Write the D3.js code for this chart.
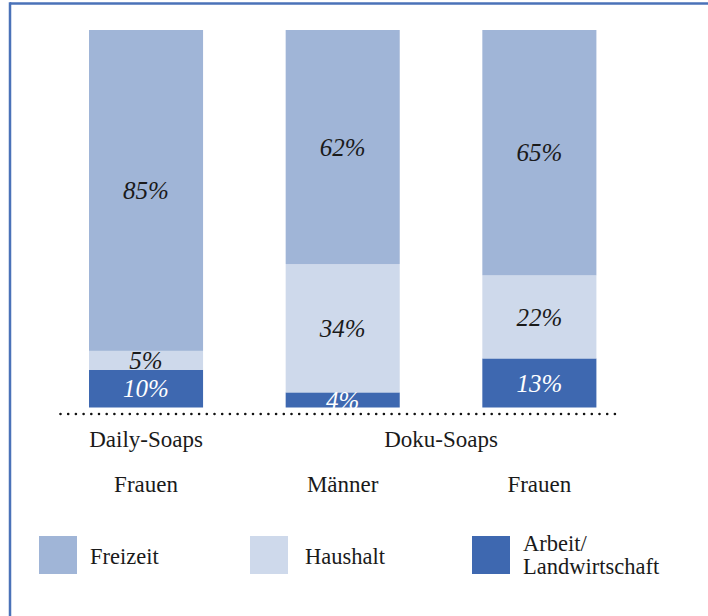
<!DOCTYPE html>
<html>
<head>
<meta charset="utf-8">
<script src="https://cdn.jsdelivr.net/npm/d3@7"></script>
<style>
  body { margin: 0; background: #fff; }
</style>
</head>
<body>
<svg id="chart" width="708" height="616"></svg>
<script>
// bar keys and labels under them
var bars = ["ds_f", "dk_m", "dk_f"];
var groupLabels = ["Frauen", "Männer", "Frauen"];
var formatLabels = [["Daily-Soaps", ["ds_f"]], ["Doku-Soaps", ["dk_m", "dk_f"]]];

// percentages per series (bottom to top)
var series = ["Arbeit", "Haushalt", "Freizeit"];
var arbeit = [10, 4, 13];
var haushalt = [5, 34, 22];
var freizeit = [85, 62, 65];

var colors = { Freizeit: "#a0b5d7", Haushalt: "#ced9eb", Arbeit: "#3e68b0" };
var legendItems = [["Freizeit", ["Freizeit"]], ["Haushalt", ["Haushalt"]], ["Arbeit", ["Arbeit/", "Landwirtschaft"]]];

var serif = "'Liberation Serif', 'Times New Roman', serif";

var svg = d3.select("#chart"),
width = 708,
height = 616;

// frame (only top + left edge show in the picture)
svg.append("line").attr("x1", 10).attr("x2", width).attr("y1", 3.5).attr("y2", 3.5)
   .attr("stroke", "#4a72b8").attr("stroke-width", 2.5);
svg.append("line").attr("x1", 10).attr("x2", 10).attr("y1", 2.3).attr("y2", height)
   .attr("stroke", "#4a72b8").attr("stroke-width", 2.5);

var table = bars.map(function(b, i) {
  return { key: b, Arbeit: arbeit[i], Haushalt: haushalt[i], Freizeit: freizeit[i] };
});

var x = d3.scaleBand()
          .domain(bars)
          .range([47.7, 637.7])
          .paddingInner(0.42)
          .paddingOuter(0.21);

var y = d3.scaleLinear().domain([0, 100]).range([407.5, 30]);

var stacked = d3.stack().keys(series)(table);

var layer = svg.selectAll("g.layer")
               .data(stacked)
               .enter().append("g")
               .attr("class", "layer")
               .attr("fill", function(d) { return colors[d.key]; });

layer.selectAll("rect")
     .data(function(d) { return d; })
     .enter().append("rect")
     .attr("x", function(d) { return x(d.data.key); })
     .attr("width", x.bandwidth())
     .attr("y", function(d) { return y(d[1]); })
     .attr("height", function(d) { return y(d[0]) - y(d[1]); });

// value labels, centred in each segment
stacked.forEach(function(s) {
  svg.selectAll(null)
     .data(s)
     .enter().append("text")
     .attr("x", function(d) { return x(d.data.key) + x.bandwidth() / 2; })
     .attr("y", function(d) { return (y(d[0]) + y(d[1])) / 2; })
     .attr("dy", "0.35em")
     .attr("text-anchor", "middle")
     .attr("font-family", serif)
     .attr("font-size", 25)
     .attr("font-style", "italic")
     .attr("fill", s.key == "Arbeit" ? "#ffffff" : "#1a1a1a")
     .text(function(d) { return (d[1] - d[0]) + "%"; });
});

// dotted baseline
svg.append("line")
   .attr("x1", 60.5).attr("x2", 616)
   .attr("y1", 414).attr("y2", 414)
   .attr("stroke", "#111")
   .attr("stroke-width", 2.6)
   .attr("stroke-linecap", "round")
   .attr("stroke-dasharray", "0 7.7");

// format row
svg.selectAll("text.fmt")
   .data(formatLabels)
   .enter().append("text")
   .attr("class", "fmt")
   .attr("x", function(d) {
     return d3.mean(d[1], function(k) { return x(k) + x.bandwidth() / 2; });
   })
   .attr("y", 447)
   .attr("text-anchor", "middle")
   .attr("font-family", serif)
   .attr("font-size", 23)
   .attr("fill", "#1a1a1a")
   .text(function(d) { return d[0]; });

// gender row
svg.selectAll("text.grp")
   .data(groupLabels)
   .enter().append("text")
   .attr("class", "grp")
   .attr("x", function(d, i) { return x(bars[i]) + x.bandwidth() / 2; })
   .attr("y", 492)
   .attr("text-anchor", "middle")
   .attr("font-family", serif)
   .attr("font-size", 23)
   .attr("fill", "#1a1a1a")
   .text(function(d) { return d; });

// legend
var legendX = [39, 250, 472];
var leg = svg.selectAll("g.leg")
             .data(legendItems)
             .enter().append("g")
             .attr("class", "leg")
             .attr("transform", function(d, i) { return "translate(" + legendX[i] + ",536)"; });

leg.append("rect")
   .attr("width", 38).attr("height", 38)
   .attr("fill", function(d) { return colors[d[0]]; });

leg.each(function(d, i) {
  var g = d3.select(this);
  d[1].forEach(function(line, j) {
    g.append("text")
     .attr("x", i == 1 ? 55 : 51)
     .attr("y", d[1].length > 1 ? 15 + j * 23 : 28)
     .attr("font-family", serif)
     .attr("font-size", 22.5)
     .attr("fill", "#1a1a1a")
     .text(line);
  });
});
</script>
</body>
</html>
